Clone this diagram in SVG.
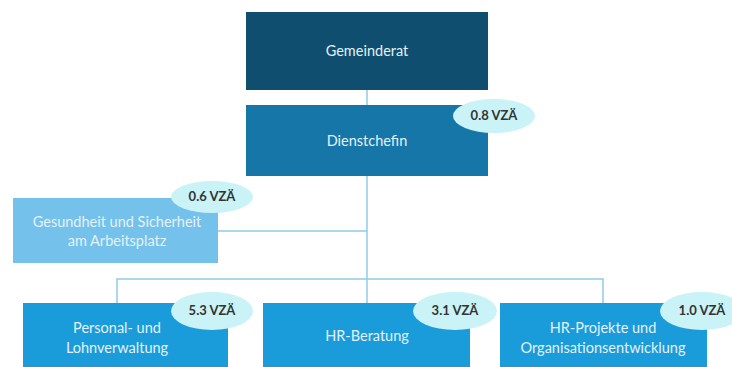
<svg xmlns="http://www.w3.org/2000/svg" width="732" height="367" viewBox="0 0 732 367">
<style>
.t{font-family:Lato,"Open Sans","Liberation Sans",sans-serif;font-size:14.5px;fill:#e4f1f8;text-anchor:middle}
.b{font-family:Lato,"Open Sans","Liberation Sans",sans-serif;font-size:13px;font-weight:bold;fill:#333;text-anchor:middle}
.e{fill:#c9f3f6}
.c{stroke:#8ecbe8;stroke-width:1.5;fill:none}
</style>
<rect width="732" height="367" fill="#fff"/>
<g id="connectors">
<line class="c" x1="367" y1="90" x2="367" y2="105"/>
<line class="c" x1="367" y1="176" x2="367" y2="303"/>
<line class="c" x1="218" y1="231" x2="367" y2="231"/>
<polyline class="c" points="117,303 117,279 603,279 603,303"/>
</g>
<g id="gemeinderat">
<rect x="246" y="12" width="242" height="78" fill="#0f4e6f"/>
<text class="t" x="367" y="56">Gemeinderat</text>
</g>
<g id="dienstchefin">
<rect x="246" y="105" width="242" height="71" fill="#1676a7"/>
<text class="t" x="367" y="146">Dienstchefin</text>
<ellipse class="e" cx="494" cy="116" rx="41" ry="17"/>
<text class="b" x="494" y="120">0.8 VZÄ</text>
</g>
<g id="gesundheit">
<rect x="13" y="198" width="205" height="65" fill="#74c2eb"/>
<text class="t" x="117" y="227">Gesundheit und Sicherheit</text>
<text class="t" x="117" y="246">am Arbeitsplatz</text>
<ellipse class="e" cx="212" cy="197" rx="41" ry="16"/>
<text class="b" x="212" y="201">0.6 VZÄ</text>
</g>
<g id="personal">
<rect x="23" y="303" width="205" height="70" fill="#1a9cdb"/>
<text class="t" x="117" y="333">Personal- und</text>
<text class="t" x="117" y="353">Lohnverwaltung</text>
<ellipse class="e" cx="212" cy="311" rx="41" ry="19"/>
<text class="b" x="212" y="315">5.3 VZÄ</text>
</g>
<g id="hrberatung">
<rect x="263" y="303" width="207" height="70" fill="#1a9cdb"/>
<text class="t" x="367" y="341">HR-Beratung</text>
<ellipse class="e" cx="455" cy="311" rx="42" ry="19"/>
<text class="b" x="455" y="315">3.1 VZÄ</text>
</g>
<g id="hrprojekte">
<rect x="500" y="303" width="207" height="70" fill="#1a9cdb"/>
<text class="t" x="603" y="333">HR-Projekte und</text>
<text class="t" x="603" y="353">Organisationsentwicklung</text>
<ellipse class="e" cx="702" cy="311" rx="42" ry="19"/>
<text class="b" x="702" y="315">1.0 VZÄ</text>
</g>
</svg>
